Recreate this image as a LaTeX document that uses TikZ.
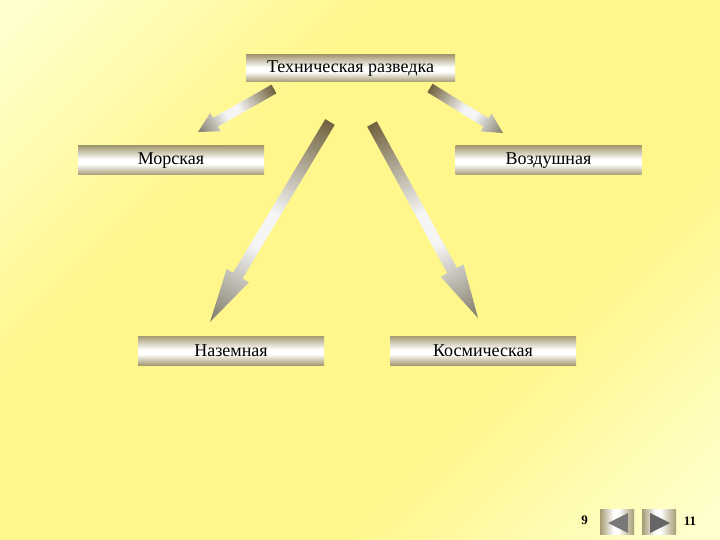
\documentclass[tikz,border=0pt]{standalone}
\usepackage{fontspec}
\setmainfont{Liberation Serif}
\usetikzlibrary{calc}
\definecolor{bgl}{RGB}{255,255,206}
\definecolor{bgs}{RGB}{255,247,140}
\definecolor{metaltan}{RGB}{165,155,115}
\definecolor{arrdark}{RGB}{112,98,62}
\definecolor{arrhead}{RGB}{128,122,104}
\definecolor{trigray}{RGB}{120,120,120}
\pgfdeclareverticalshading{bgshade}{100bp}{color(0bp)=(bgl); color(16bp)=(bgl); color(36bp)=(bgs); color(64bp)=(bgs); color(84bp)=(bgl); color(100bp)=(bgl)}
\pgfdeclareverticalshading{metalbox}{100bp}{color(0bp)=(metaltan); color(25bp)=(metaltan); color(44bp)=(white); color(52bp)=(white); color(75bp)=(metaltan); color(100bp)=(metaltan)}
\pgfdeclarehorizontalshading{metalarrow}{100bp}{color(0bp)=(arrdark); color(25bp)=(arrdark); color(48bp)=(white!92!gray); color(56bp)=(white!92!gray); color(75bp)=(arrhead); color(100bp)=(arrhead)}
\pgfdeclarehorizontalshading{metalbtn}{100bp}{color(0bp)=(metaltan); color(25bp)=(metaltan); color(45bp)=(white); color(52bp)=(white); color(75bp)=(metaltan); color(100bp)=(metaltan)}
\newcommand\metalarrow[5]{%
  \pgfmathanglebetweenpoints{\pgfpointanchor{#1}{center}}{\pgfpointanchor{#2}{center}}%
  \let\arang\pgfmathresult
  \pgfpointdiff{\pgfpointanchor{#1}{center}}{\pgfpointanchor{#2}{center}}%
  \pgfgetlastxy\ardx\ardy
  \pgfmathsetmacro\arlen{veclen(\ardx,\ardy)}%
  \pgfmathsetmacro\arneck{\arlen-#5}%
  \pgfmathsetmacro\arsw{#3/2}%
  \pgfmathsetmacro\arhw{#4/2}%
  \begin{scope}[transform canvas={shift={(#1)},rotate=\arang}]
    \shade[shading=metalarrow]
      (0pt,-\arsw pt) -- (\arneck pt,-\arsw pt) -- (\arneck pt,-\arhw pt) -- (\arlen pt,0pt)
      -- (\arneck pt,\arhw pt) -- (\arneck pt,\arsw pt) -- (0pt,\arsw pt) -- cycle;
  \end{scope}}
\tikzset{
  metalnode/.style={shade, shading=metalbox, minimum width=186pt, minimum height=29pt,
    inner sep=0pt, font=\fontsize{18}{20}\selectfont, text=black},
  navbtn/.style={shade, shading=metalbtn, minimum width=34pt, minimum height=25pt, inner sep=0pt},
  numlabel/.style={font=\fontsize{13}{15}\selectfont\bfseries, text=black, inner sep=0pt}
}
\begin{document}
\begin{tikzpicture}[x=1pt,y=-1pt]
\useasboundingbox (0,0) rectangle (720,540);
\shade[shading=bgshade, shading angle=45] (0,0) rectangle (720,540);

\node[metalnode, minimum width=209pt, minimum height=27pt] (top) at (350.5,68.5) {Техническая разведка};
\node[metalnode] (sea) at (171,160.5) {Морская};
\node[metalnode] (air) at (548.5,160.5) {Воздушная};
\node[metalnode] (ground) at (231,350.5) {Наземная};
\node[metalnode] (space) at (483,350.5) {Космическая};

\coordinate (a1s) at (274,89);
\coordinate (a1e) at (198,132);
\coordinate (a2s) at (430,88);
\coordinate (a2e) at (503,133);
\coordinate (a3s) at (330,122);
\coordinate (a3e) at (210,322);
\coordinate (a4s) at (372,124);
\coordinate (a4e) at (478,318);

\metalarrow{a1s}{a1e}{10}{21}{20}
\metalarrow{a2s}{a2e}{10}{21}{20}
\metalarrow{a3s}{a3e}{11}{26}{54}
\metalarrow{a4s}{a4e}{11}{26}{54}

\node[navbtn] (prevbtn) at (617,522) {};
\node[navbtn] (nextbtn) at (659,522) {};
\fill[trigray] (608,523) -- (628,513) -- (628,533) -- cycle;
\fill[trigray!85!black] (670,523) -- (650,513) -- (650,533) -- cycle;
\node[numlabel] (prevnum) at (584.5,520.5) {9};
\node[numlabel] (nextnum) at (690,521) {11};
\end{tikzpicture}
\end{document}
